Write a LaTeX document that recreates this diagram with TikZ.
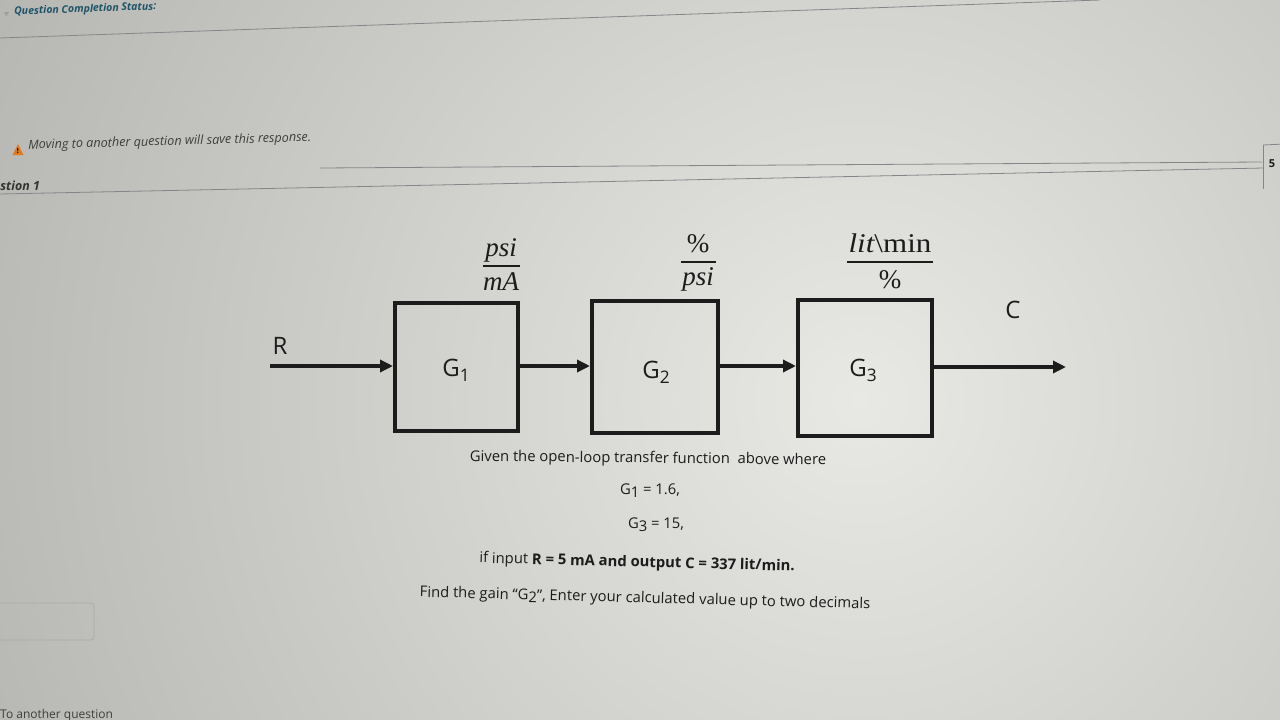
\documentclass[tikz,border=0pt]{standalone}
\usepackage{fontspec}
\usepackage{graphicx}
\setmainfont{Open Sans}
\newfontfamily\serifx{Liberation Serif}
\usetikzlibrary{arrows.meta}
\definecolor{bgd}{HTML}{9C9C98}
\definecolor{bgl}{HTML}{E8E8E5}
\definecolor{ink}{HTML}{1C1C1C}
\definecolor{hdr}{HTML}{1F5468}
\definecolor{rulec}{HTML}{86868A}
\definecolor{warn}{HTML}{E07A1F}
\newcommand{\lowsub}[2][0.72]{\raisebox{-0.4ex}{\scalebox{#1}{#2}}}
\begin{document}
\begin{tikzpicture}[x=1pt,y=-1pt,
  blockbox/.style={draw=ink, line width=4pt, inner sep=0pt},
  flow/.style={draw=ink, line width=3.4pt, -{Triangle[length=13pt,width=12pt]}},
  lbl/.style={text=ink, font=\fontsize{24}{28}\selectfont, inner sep=0pt},
  fr/.style={text=ink, font=\serifx\fontsize{27}{30}\selectfont, inner sep=0pt},
  fbar/.style={draw=ink, line width=2pt},
  body/.style={text=ink, font=\fontsize{14.8}{18}\selectfont, inner sep=0pt},
  hdrtxt/.style={text=hdr, font=\fontsize{10.5}{12}\selectfont\bfseries\itshape, inner sep=0pt},
  uitxt/.style={text=ink!85, font=\fontsize{12.6}{15}\selectfont\itshape, inner sep=0pt},
  uirule/.style={draw=rulec, line width=0.8pt}
]
\useasboundingbox (0,0) rectangle (1280,720);
% background (photo of a screen)
\begin{scope}
  \clip (0,0) rectangle (1280,720);
  \fill[bgd] (0,0) rectangle (1280,720);
  \shade[inner color=bgl, outer color=bgd] (860,400) circle (1450);
\end{scope}

% page chrome
\fill[rulec!80] (4,12) -- (9,12) -- (6.5,16) -- cycle;
\node[hdrtxt, anchor=west, rotate=2] (qcs) at (14,12) {Question Completion Status:};
\draw[uirule] (0,38) -- (1100,0);
\fill[warn] (12.5,155) -- (23.5,155) -- (18,144) -- cycle;
\node[text=black, font=\fontsize{7}{8}\selectfont\bfseries, inner sep=0pt] (excl) at (18,151) {!};
\node[uitxt, anchor=west, rotate=1.6] (mov) at (28,146) {Moving to another question will save this response.};
\draw[uirule] (320,168) -- (1262,162);
\node[text=ink!90, font=\fontsize{12.5}{14}\selectfont\bfseries\itshape, inner sep=0pt, anchor=west, rotate=0.8] (qn) at (0,186) {stion 1};
\draw[uirule] (0,194) -- (1264,168);
\draw[uirule] (1263,145) -- (1285,144);
\draw[uirule] (1263,145) -- (1263,189);
\node[text=ink, font=\fontsize{11}{13}\selectfont\bfseries, inner sep=0pt] (five) at (1272,164) {5};
\draw[draw=rulec!70, line width=0.8pt, rounded corners=3pt] (-5,603) rectangle (94,640);
\node[uitxt, font=\fontsize{12}{14}\selectfont, anchor=north west] (toan) at (0,709) {To another question};

% blocks
\node[blockbox, minimum width=123pt, minimum height=128pt] (b1) at (456.5,367) {};
\node[blockbox, minimum width=126pt, minimum height=132pt] (b2) at (655,367) {};
\node[blockbox, minimum width=134pt, minimum height=136pt] (b3) at (865,367.5) {};
\node[lbl] (g1) at (456,370) {G\lowsub{1}};
\node[lbl] (g2) at (656,372) {G\lowsub{2}};
\node[lbl] (g3) at (863,370) {G\lowsub{3}};

% signals
\coordinate (rin) at (270,366);
\coordinate (cout) at (1066,367);
\draw[flow] (rin) -- (b1.west |- rin);
\draw[flow] (b1.east |- rin) -- (b2.west |- rin);
\draw[flow] (b2.east |- rin) -- (b3.west |- rin);
\draw[flow] (b3.east |- cout) -- (cout);
\node[lbl] (rl) at (280,346) {R};
\node[lbl] (cl) at (1013,310) {C};

% units
\node[fr, anchor=base] (n1) at (501,256) {\itshape psi};
\node[fr, anchor=base] (d1) at (501,290) {\itshape mA};
\draw[fbar] (483,266) -- (520,266);
\node[fr, anchor=base] (n2) at (698,252) {\%};
\node[fr, anchor=base] (d2) at (698,285) {\itshape psi};
\draw[fbar] (681,262) -- (716,262);
\node[fr, anchor=base] (n3) at (890,252) {\scalebox{1.15}[1]{{\itshape lit}\textbackslash min}};
\node[fr, anchor=base] (d3) at (890,288) {\%};
\draw[fbar] (847,262) -- (933,262);

% question text
\node[body, rotate=-0.6] (t1) at (648,459) {Given the open-loop transfer function\ \ above where};
\node[body] (t2) at (650,491) {G\lowsub[1]{1} = 1.6,};
\node[body] (t3) at (656,525) {G\lowsub[1]{3} = 15,};
\node[body, rotate=-1.5] (t4) at (637,563) {if input \textbf{R = 5 mA and output C = 337 lit/min.}};
\node[body, rotate=-1.5] (t5) at (645,599) {Find the gain “G\lowsub[1]{2}”, Enter your calculated value up to two decimals};
\end{tikzpicture}
\end{document}
